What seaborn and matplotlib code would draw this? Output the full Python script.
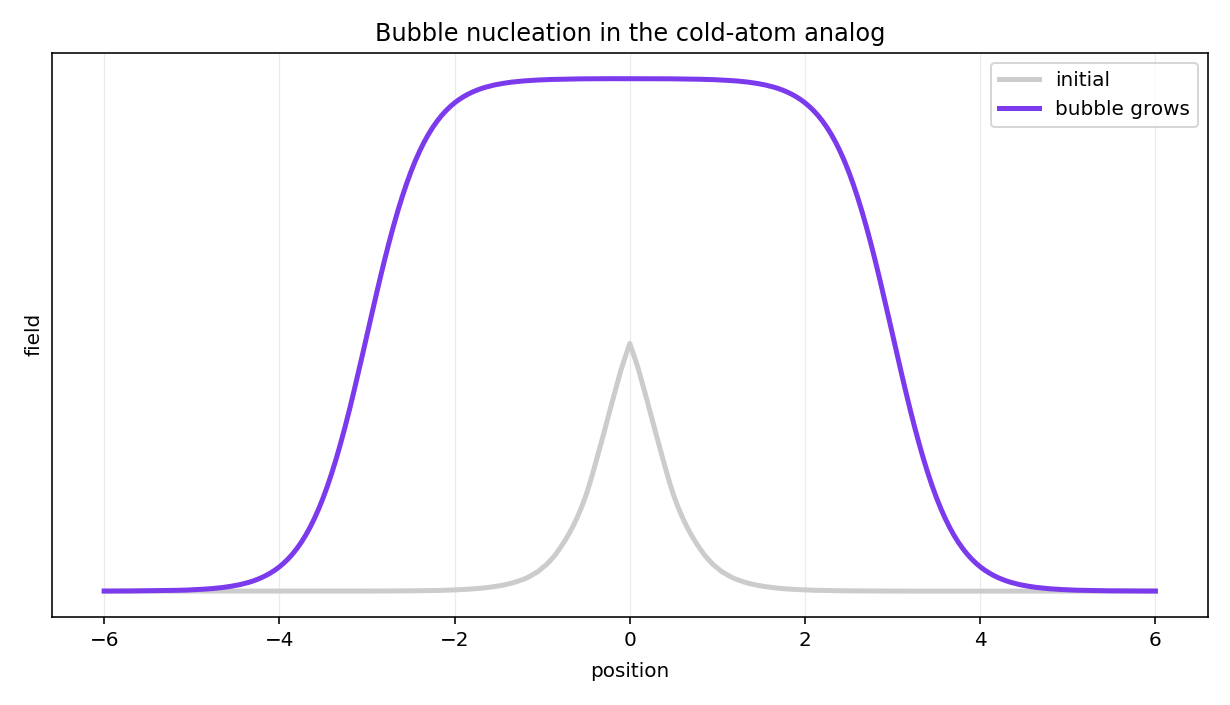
import numpy as np
import pandas as pd
import matplotlib
matplotlib.use("Agg")
import matplotlib.pyplot as plt
import seaborn as sns

# sampling positions along the chain (x axis), step 0.05
position = np.round(np.linspace(-6.0, 6.0, 241), 2)

# "initial" field profile (grey)
initial = [
    # x = -6.00 .. -3.05
    0.0, 0.0, 0.0, 0.0, 0.0, 0.0, 0.0, 0.0, 0.0, 0.0,
    0.0, 0.0, 0.0, 0.0, 0.0, 0.0, 0.0, 0.0, 0.0, 0.0,
    0.0, 0.0, 0.0, 0.0, 0.0, 0.0, 0.0, 0.0, 0.0, 0.0,
    0.0, 0.0, 0.0, 0.0, 0.0, 0.0, 0.0, 0.0, 0.0, 0.0,
    0.0, 0.0, 0.0, 0.0, 0.0, 0.0, 0.0, 0.0, 0.0, 0.0,
    0.0, 0.0, 0.0, 0.0, 0.0, 0.0, 0.0, 0.0, 0.0, 0.0,
    # x = -3.00 .. -0.05
    0.0001, 0.0001, 0.0002, 0.0002, 0.0002, 0.0003, 0.0003, 0.0003, 0.0004, 0.0005,
    0.0005, 0.0006, 0.0007, 0.0008, 0.0010, 0.0011, 0.0013, 0.0015, 0.0017, 0.0020,
    0.0023, 0.0027, 0.0031, 0.0036, 0.0042, 0.0048, 0.0056, 0.0065, 0.0075, 0.0087,
    0.0100, 0.0115, 0.0135, 0.0155, 0.018, 0.021, 0.024, 0.028, 0.033, 0.038,
    0.045, 0.052, 0.061, 0.071, 0.083, 0.096, 0.110, 0.126, 0.144, 0.164,
    0.187, 0.214, 0.244, 0.275, 0.306, 0.338, 0.370, 0.401, 0.432, 0.458,
    # x = 0.00
    0.483,
    # x = 0.05 .. 3.00
    0.458, 0.432, 0.401, 0.370, 0.338, 0.306, 0.275, 0.244, 0.214, 0.187,
    0.164, 0.144, 0.126, 0.110, 0.096, 0.083, 0.071, 0.061, 0.052, 0.045,
    0.038, 0.033, 0.028, 0.024, 0.021, 0.018, 0.0155, 0.0135, 0.0115, 0.0100,
    0.0087, 0.0075, 0.0065, 0.0056, 0.0048, 0.0042, 0.0036, 0.0031, 0.0027, 0.0023,
    0.0020, 0.0017, 0.0015, 0.0013, 0.0011, 0.0010, 0.0008, 0.0007, 0.0006, 0.0005,
    0.0005, 0.0004, 0.0003, 0.0003, 0.0003, 0.0002, 0.0002, 0.0002, 0.0001, 0.0001,
    # x = 3.05 .. 6.00
    0.0, 0.0, 0.0, 0.0, 0.0, 0.0, 0.0, 0.0, 0.0, 0.0,
    0.0, 0.0, 0.0, 0.0, 0.0, 0.0, 0.0, 0.0, 0.0, 0.0,
    0.0, 0.0, 0.0, 0.0, 0.0, 0.0, 0.0, 0.0, 0.0, 0.0,
    0.0, 0.0, 0.0, 0.0, 0.0, 0.0, 0.0, 0.0, 0.0, 0.0,
    0.0, 0.0, 0.0, 0.0, 0.0, 0.0, 0.0, 0.0, 0.0, 0.0,
    0.0, 0.0, 0.0, 0.0, 0.0, 0.0, 0.0, 0.0, 0.0, 0.0,
]

# "bubble grows" field profile (purple)
bubble = [
    # x = -6.00 .. -0.05
    0.0001, 0.0001, 0.0002, 0.0002, 0.0002, 0.0003, 0.0003, 0.0004, 0.0004, 0.0005,
    0.0006, 0.0006, 0.0007, 0.0009, 0.0010, 0.0012, 0.0014, 0.0016, 0.0018, 0.0021,
    0.0025, 0.0029, 0.0033, 0.0039, 0.0045, 0.0052, 0.0061, 0.0070, 0.0082, 0.0095,
    0.0110, 0.0127, 0.0148, 0.0171, 0.0198, 0.0230, 0.0266, 0.0308, 0.0356, 0.0411,
    0.0474, 0.0547, 0.0630, 0.0724, 0.0832, 0.0953, 0.1091, 0.1245, 0.1419, 0.1611,
    0.1824, 0.2059, 0.2315, 0.2592, 0.2891, 0.3208, 0.3543, 0.3894, 0.4256, 0.4626,
    0.5000, 0.5374, 0.5744, 0.6106, 0.6457, 0.6792, 0.7109, 0.7408, 0.7685, 0.7941,
    0.8176, 0.8389, 0.8581, 0.8755, 0.8909, 0.9047, 0.9168, 0.9276, 0.9370, 0.9453,
    0.9526, 0.9589, 0.9644, 0.9692, 0.9734, 0.9770, 0.9802, 0.9829, 0.9852, 0.9873,
    0.9890, 0.9905, 0.9918, 0.9930, 0.9939, 0.9948, 0.9955, 0.9961, 0.9967, 0.9971,
    0.9975, 0.9979, 0.9982, 0.9984, 0.9986, 0.9988, 0.9990, 0.9991, 0.9993, 0.9994,
    0.9994, 0.9995, 0.9996, 0.9996, 0.9997, 0.9997, 0.9997, 0.9997, 0.9997, 0.9997,
    # x = 0.00
    0.9998,
    # x = 0.05 .. 6.00
    0.9997, 0.9997, 0.9997, 0.9997, 0.9997, 0.9997, 0.9996, 0.9996, 0.9995, 0.9994,
    0.9994, 0.9993, 0.9991, 0.9990, 0.9988, 0.9986, 0.9984, 0.9982, 0.9979, 0.9975,
    0.9971, 0.9967, 0.9961, 0.9955, 0.9948, 0.9939, 0.9930, 0.9918, 0.9905, 0.9890,
    0.9873, 0.9852, 0.9829, 0.9802, 0.9770, 0.9734, 0.9692, 0.9644, 0.9589, 0.9526,
    0.9453, 0.9370, 0.9276, 0.9168, 0.9047, 0.8909, 0.8755, 0.8581, 0.8389, 0.8176,
    0.7941, 0.7685, 0.7408, 0.7109, 0.6792, 0.6457, 0.6106, 0.5744, 0.5374, 0.5000,
    0.4626, 0.4256, 0.3894, 0.3543, 0.3208, 0.2891, 0.2592, 0.2315, 0.2059, 0.1824,
    0.1611, 0.1419, 0.1245, 0.1091, 0.0953, 0.0832, 0.0724, 0.0630, 0.0547, 0.0474,
    0.0411, 0.0356, 0.0308, 0.0266, 0.0230, 0.0198, 0.0171, 0.0148, 0.0127, 0.0110,
    0.0095, 0.0082, 0.0070, 0.0061, 0.0052, 0.0045, 0.0039, 0.0033, 0.0029, 0.0025,
    0.0021, 0.0018, 0.0016, 0.0014, 0.0012, 0.0010, 0.0009, 0.0007, 0.0006, 0.0006,
    0.0005, 0.0004, 0.0004, 0.0003, 0.0003, 0.0002, 0.0002, 0.0002, 0.0001, 0.0001,
]

series_labels = ["initial", "bubble grows"]
series_colors = ["#cccccc", "#7c3aed"]
xtick_values = [-6, -4, -2, 0, 2, 4, 6]

df_init = pd.DataFrame({"position": position, "field": initial})
df_bub = pd.DataFrame({"position": position, "field": bubble})

DPI = 144
fig, ax = plt.subplots(figsize=(1230 / DPI, 705 / DPI), dpi=DPI)
fig.subplots_adjust(left=0.042, right=0.9821, bottom=0.1252, top=0.9248)

sns.lineplot(data=df_init, x="position", y="field", color=series_colors[0],
             linewidth=2.5, label=series_labels[0], ax=ax, sort=False)
sns.lineplot(data=df_bub, x="position", y="field", color=series_colors[1],
             linewidth=2.5, label=series_labels[1], ax=ax, sort=False)

ax.set_title("Bubble nucleation in the cold-atom analog")
ax.set_xlabel("position", labelpad=6)
ax.set_ylabel("field")
ax.set_yticks([])
ax.set_xticks(xtick_values)
ax.grid(axis="x", color="#b0b0b0", alpha=0.25, linewidth=0.6)
ax.set_axisbelow(True)
ax.legend(loc="upper right")

fig.savefig("out.png", dpi=DPI)
